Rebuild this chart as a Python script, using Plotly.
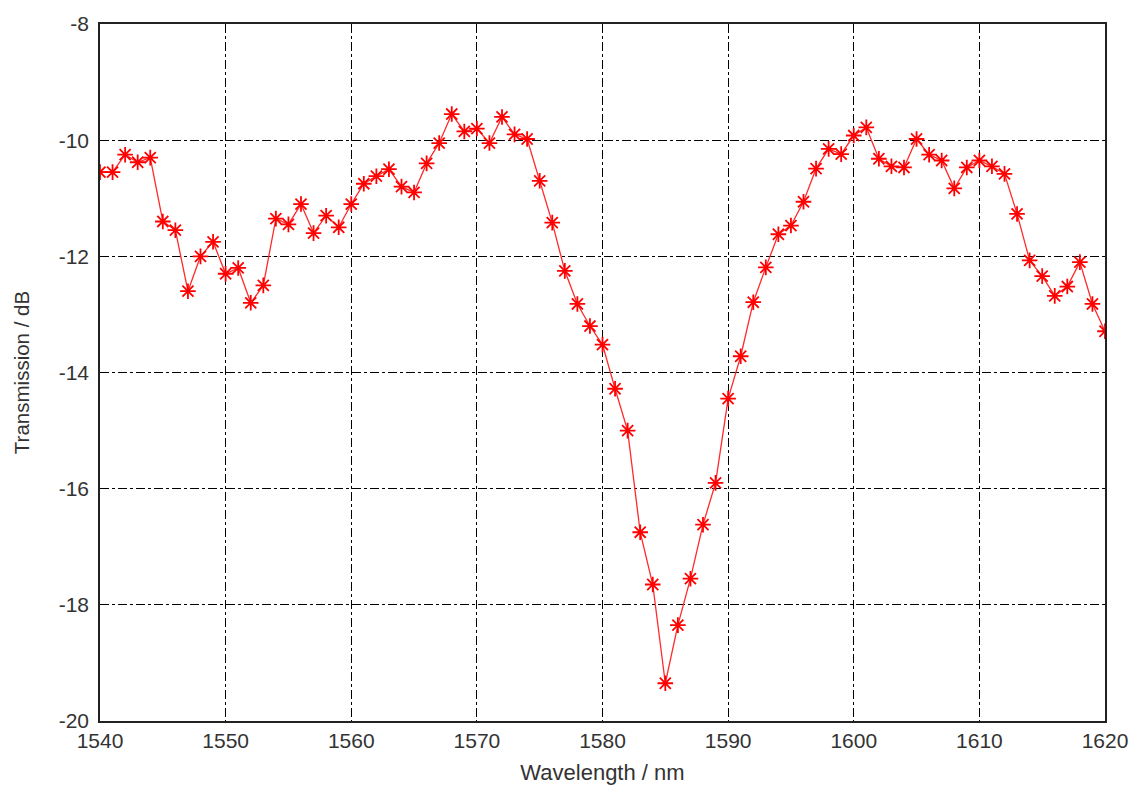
import plotly.graph_objects as go

wavelength = list(range(1540, 1621))
transmission = [
    -10.55, -10.55, -10.25, -10.38, -10.30, -11.40, -11.55, -12.60, -12.00, -11.75,
    -12.30, -12.20, -12.80, -12.50, -11.35, -11.45, -11.10, -11.60, -11.30, -11.50,
    -11.10, -10.75, -10.62, -10.50, -10.80, -10.90, -10.40, -10.05, -9.55, -9.85,
    -9.80, -10.05, -9.60, -9.90, -9.98, -10.70, -11.42, -12.25, -12.82, -13.20,
    -13.52, -14.28, -15.00, -16.75, -17.65, -19.35, -18.35, -17.55, -16.62, -15.90,
    -14.45, -13.72, -12.79, -12.19, -11.62, -11.47, -11.06, -10.49, -10.15, -10.24,
    -9.92, -9.78, -10.32, -10.45, -10.47, -9.98, -10.25, -10.35, -10.83, -10.47,
    -10.35, -10.45, -10.58, -11.27, -12.07, -12.34, -12.68, -12.52, -12.10, -12.82,
    -13.29,
]
x_ticks = [1540, 1550, 1560, 1570, 1580, 1590, 1600, 1610, 1620]
y_ticks = [-20, -18, -16, -14, -12, -10, -8]
y_tick_labels = ["-20", "-18", "-16", "-14", "-12", "-10", "-8"]

fig = go.Figure()
fig.add_trace(go.Scatter(
    x=wavelength, y=transmission, mode="lines+markers",
    line=dict(color="#ff2a2a", width=1.3),
    marker=dict(symbol="asterisk-open", size=13, color="#ff0000",
                line=dict(color="#ff0000", width=1.8)),
    showlegend=False,
))

FAM = "Liberation Sans, Arial, sans-serif"
tick_font = dict(family=FAM, size=21, color="#333333")
xtitle_font = dict(family=FAM, size=22, color="#333333")
ytitle_font = dict(family=FAM, size=20.5, color="#333333")
fig.update_layout(
    width=1140, height=793,
    margin=dict(l=100, r=34, t=15, b=71),
    paper_bgcolor="white", plot_bgcolor="white",
    font=dict(family=FAM, size=20, color="#333333"),
)
fig.update_xaxes(
    range=[1540, 1620], tickvals=x_ticks, ticks="",
    showline=True, linecolor="#222222", linewidth=1.6, mirror=True,
    showgrid=True, gridcolor="#000000", gridwidth=1.3, griddash="dashdot",
    zeroline=False,
    title=dict(text="Wavelength / nm", standoff=14, font=xtitle_font),
    tickfont=tick_font,
)
fig.update_yaxes(
    range=[-20, -8], tickvals=y_ticks, ticktext=y_tick_labels, ticks="",
    showline=True, linecolor="#222222", linewidth=1.6, mirror=True,
    showgrid=True, gridcolor="#000000", gridwidth=1.3, griddash="dashdot",
    zeroline=False,
    title=dict(text="Transmission / dB", standoff=23, font=ytitle_font),
    tickfont=tick_font, ticklabelstandoff=5,
)
fig.write_html("out.html")
